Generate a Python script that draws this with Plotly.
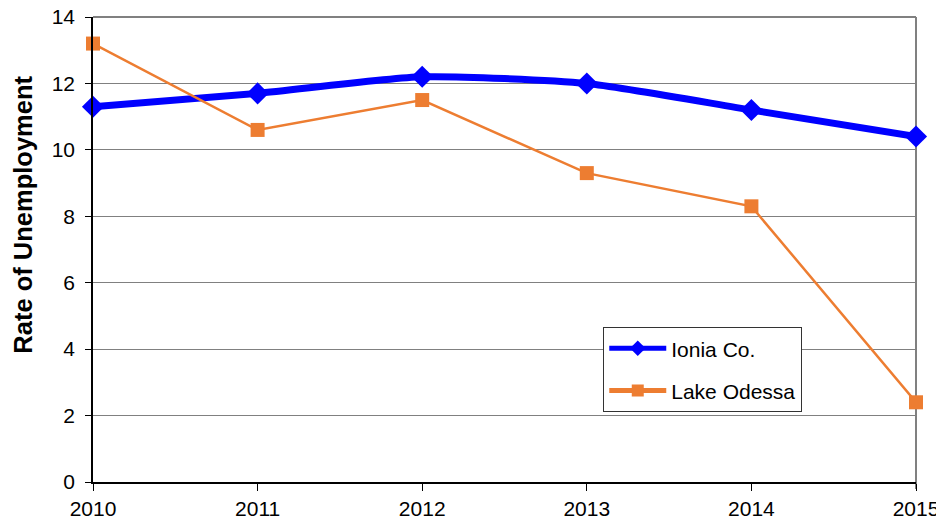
import plotly.graph_objects as go

years = [2010, 2011, 2012, 2013, 2014, 2015]
ionia = [11.3, 11.7, 12.2, 12.0, 11.2, 10.4]
lake_odessa = [13.2, 10.6, 11.5, 9.3, 8.3, 2.4]
y_ticks = [0, 2, 4, 6, 8, 10, 12, 14]

fig = go.Figure()
fig.add_trace(go.Scatter(
    x=years, y=ionia, name="Ionia Co.", mode="lines+markers", legendgroup="a",
    line=dict(color="#0000FF", width=7, shape="spline", smoothing=0.6),
    marker=dict(symbol="diamond", size=17, color="#0000FF"),
    cliponaxis=False,
))
fig.add_trace(go.Scatter(
    x=years, y=lake_odessa, name="Lake Odessa", mode="lines+markers", legendgroup="b",
    line=dict(color="#ED7D31", width=2.5),
    marker=dict(symbol="square", size=14, color="#ED7D31"),
    cliponaxis=False,
))

font = "Liberation Sans, Arial, sans-serif"
# page body adds an 8px offset, so the figure is 8px smaller on each side
fig.update_layout(
    width=936, height=511,
    margin=dict(l=85, r=28, t=9, b=37, autoexpand=False),
    paper_bgcolor="white", plot_bgcolor="white",
    font=dict(family=font, size=21, color="black"),
    showlegend=True,
    legend=dict(
        x=0.62, y=0.333, xanchor="left", yanchor="top",
        bgcolor="white", bordercolor="#333333", borderwidth=1,
        font=dict(size=21), itemsizing="constant", itemwidth=57,
        tracegroupgap=12,
    ),
    xaxis=dict(
        range=[2010, 2015], tickvals=years, ticktext=[str(y) for y in years],
        showgrid=False, showline=True, linecolor="black", linewidth=1.5,
        ticks="outside", ticklen=7, tickcolor="black", tickwidth=1,
        zeroline=False, automargin=False, ticklabeloverflow="allow",
    ),
    yaxis=dict(
        range=[0, 14], tickvals=y_ticks,
        showgrid=True, gridcolor="#808080", gridwidth=1,
        showline=True, linecolor="black", linewidth=1.5,
        ticks="outside", ticklen=6, tickcolor="black", tickwidth=1,
        ticklabelstandoff=6,
        zeroline=False, automargin=False, ticklabeloverflow="allow",
    ),
    annotations=[dict(
        text="<b>Rate of Unemployment</b>", textangle=-90,
        xref="paper", yref="paper", x=-0.085, y=0.575,
        xanchor="center", yanchor="middle", showarrow=False,
        font=dict(size=25.5, family=font),
    )],
)
# right border and top edge of plot area
fig.add_shape(type="line", xref="paper", yref="paper", x0=1, x1=1, y0=-0.015, y1=1,
              line=dict(color="#808080", width=2), layer="below")
fig.add_shape(type="line", xref="paper", yref="paper", x0=0, x1=1, y0=1, y1=1,
              line=dict(color="#808080", width=2), layer="below")

fig.write_html("out.html")
